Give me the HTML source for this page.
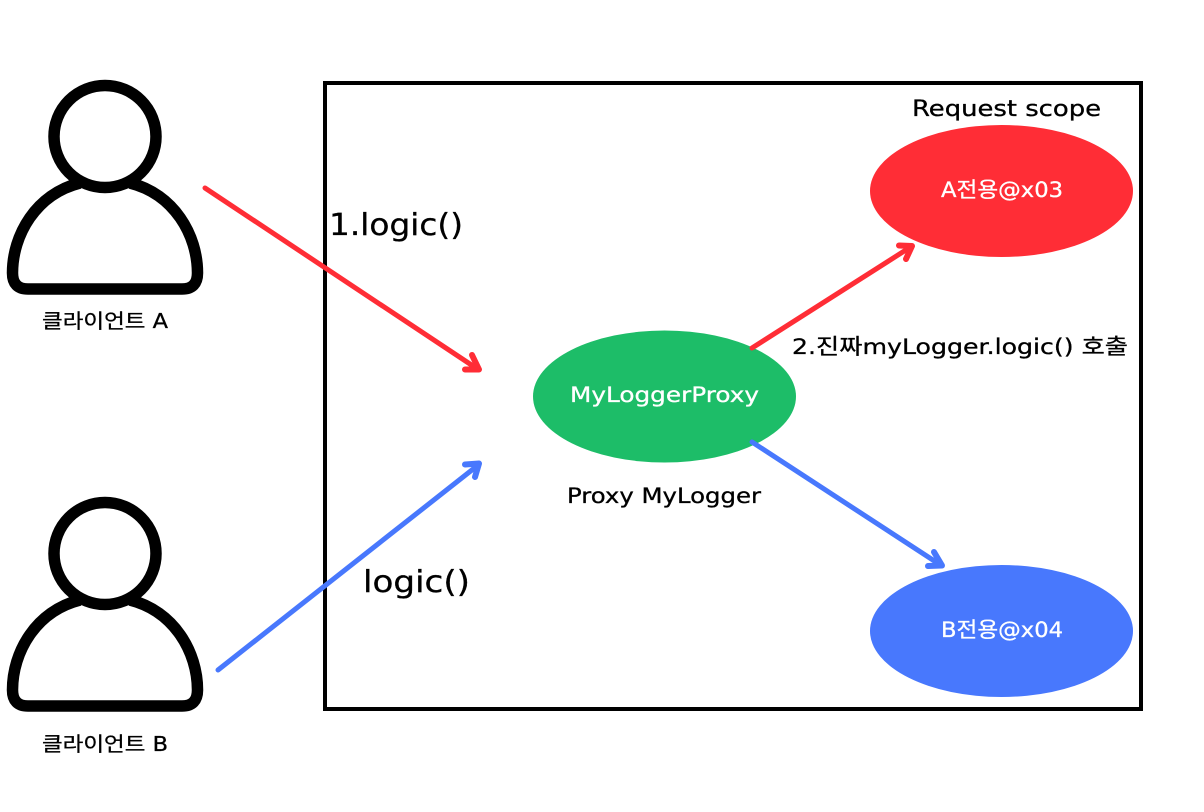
<!DOCTYPE html>
<html>
<head>
<meta charset="utf-8">
<style>
html,body{margin:0;padding:0;background:#fff;width:1204px;height:812px;overflow:hidden}
svg{display:block;position:absolute;left:0;top:0}
text{font-family:"DejaVu Sans","WenQuanYi Zen Hei","Noto Sans CJK KR",sans-serif;text-anchor:start;stroke-width:.3}
</style>
</head>
<body>
<svg width="1204" height="812" viewBox="0 0 1204 812" xmlns="http://www.w3.org/2000/svg">
<rect x="325" y="83" width="816" height="626" fill="none" stroke="#000" stroke-width="4"/>
<g fill="none" stroke="#000" stroke-width="11.500" stroke-linejoin="round">
<circle cx="105" cy="136.500" r="51"/>
<path d="M80 183C36 194 12.500 235 12.500 273Q12.500 289 28 289H182Q197.500 289 197.500 273C197.500 235 174 194 130 183"/>
</g>
<g fill="none" stroke="#000" stroke-width="11.500" stroke-linejoin="round">
<circle cx="105" cy="553.500" r="51"/>
<path d="M80 600C36 611 12.500 652 12.500 690Q12.500 706 28 706H182Q197.500 706 197.500 690C197.500 652 174 611 130 600"/>
</g>
<ellipse cx="1001.500" cy="191" rx="131.500" ry="66" fill="#ff2d36"/>
<ellipse cx="664.500" cy="396.500" rx="131.500" ry="66" fill="#1dbd68"/>
<ellipse cx="1001.500" cy="631" rx="131.500" ry="66" fill="#4878fd"/>
<g fill="none" stroke="#ff2d36" stroke-width="5" stroke-linecap="round" stroke-linejoin="round">
<path d="M205 188L476 368"/><path d="M465 369.500H479L472 355" stroke-width="6"/>
<path d="M752 348L909 248"/><path d="M899 245.500L912 246L906 259" stroke-width="6"/>
</g>
<g fill="none" stroke="#4878fd" stroke-width="5" stroke-linecap="round" stroke-linejoin="round">
<path d="M218 670L477 466"/><path d="M465 464.500L479 463.500L475 477" stroke-width="6"/>
<path d="M752 442L939 564"/><path d="M934 552L942 565.500L928 566" stroke-width="6"/>
</g>
<text x="912" y="116" font-size="22" textLength="189" lengthAdjust="spacingAndGlyphs" fill="#000" stroke="#000">Request scope</text>
<text x="329" y="235" font-size="30" textLength="134" lengthAdjust="spacingAndGlyphs" fill="#000" stroke="#000">1.logic()</text>
<text x="363" y="592" font-size="30" textLength="107" lengthAdjust="spacingAndGlyphs" fill="#000" stroke="#000">logic()</text>
<text x="567" y="503" font-size="21.500" textLength="194" lengthAdjust="spacingAndGlyphs" fill="#000" stroke="#000">Proxy MyLogger</text>
<text x="792" y="354" font-size="21.500" textLength="336" lengthAdjust="spacingAndGlyphs" fill="#000" stroke="#000">2.진짜myLogger.logic() 호출</text>
<text x="570" y="402" font-size="21.500" textLength="189" lengthAdjust="spacingAndGlyphs" fill="#fff" stroke="#fff">MyLoggerProxy</text>
<text x="941" y="197" font-size="21" textLength="122" lengthAdjust="spacingAndGlyphs" fill="#fff" stroke="#fff">A전용@x03</text>
<text x="941" y="637" font-size="21" textLength="122" lengthAdjust="spacingAndGlyphs" fill="#fff" stroke="#fff">B전용@x04</text>
<text x="42" y="328" font-size="20" textLength="126" lengthAdjust="spacingAndGlyphs" fill="#000" stroke="#000">클라이언트 A</text>
<text x="42" y="751" font-size="20" textLength="126" lengthAdjust="spacingAndGlyphs" fill="#000" stroke="#000">클라이언트 B</text>
</svg>
</body>
</html>
